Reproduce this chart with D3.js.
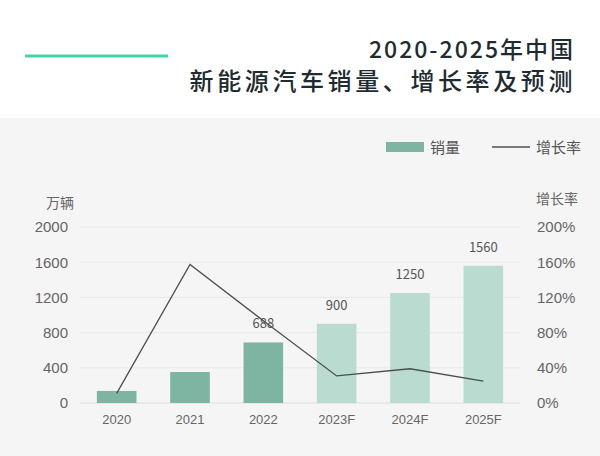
<!DOCTYPE html>
<html>
<head>
<meta charset="utf-8">
<script src="https://cdn.jsdelivr.net/npm/d3@7"></script>
<style>
  html, body { margin: 0; padding: 0; background: #fff; }
  svg { display: block; font-family: "Noto Sans CJK SC", "Noto Sans", sans-serif; }
</style>
</head>
<body>
<svg id="chart"></svg>
<script>
const width = 600;
const height = 456;

// данные
const years = ["2020", "2021", "2022", "2023F", "2024F", "2025F"];
const sales = [137, 352, 688, 900, 1250, 1560];
const growth = [0.109, 1.575, 0.934, 0.308, 0.389, 0.248];
const forecast = [false, false, false, true, true, true];
const leftTicks = [0, 400, 800, 1200, 1600, 2000];
const rightTicks = [0, 0.4, 0.8, 1.2, 1.6, 2.0];

const plotLeft = 80, plotRight = 520, plotTop = 227, plotBottom = 403;

let svg = d3.select("#chart")
    .attr("width", width)
    .attr("height", height);

// фон
svg.append("rect").attr("x", 0).attr("y", 118).attr("width", width).attr("height", height - 118)
    .attr("fill", "#f5f5f5");

// заголовок
svg.append("line").attr("x1", 25).attr("x2", 168).attr("y1", 56).attr("y2", 56)
    .attr("stroke", "#45d6a5").attr("stroke-width", 3);

svg.append("text").attr("x", 575).attr("y", 58).attr("text-anchor", "end")
    .attr("fill", "#1e2b31").attr("font-size", 23).attr("font-weight", 500)
    .attr("letter-spacing", 2)
    .text("2020-2025年中国");
svg.append("text").attr("x", 576).attr("y", 90).attr("text-anchor", "end")
    .attr("fill", "#1e2b31").attr("font-size", 24).attr("font-weight", 500)
    .attr("letter-spacing", 3.6)
    .text("新能源汽车销量、增长率及预测");

// шкалы
let scaleX = d3.scaleBand()
    .domain(years)
    .range([plotLeft, plotRight])
    .paddingInner(0.46)
    .paddingOuter(0.23);

let scaleY = d3.scaleLinear().domain([0, 2000]).range([plotBottom, plotTop]);
let scaleY2 = d3.scaleLinear().domain([0, 2]).range([plotBottom, plotTop]);

// сетка
svg.append("g")
    .selectAll("line")
    .data(leftTicks)
    .enter()
    .append("line")
    .attr("x1", plotLeft).attr("x2", plotRight)
    .attr("y1", d => scaleY(d)).attr("y2", d => scaleY(d))
    .attr("stroke", d => d === 0 ? "#dcdcdc" : "#e8e8e8")
    .attr("stroke-width", 1);

// оси
let axisL = svg.append("g")
    .attr("transform", `translate(${plotLeft}, 0)`)
    .call(d3.axisLeft(scaleY).tickValues(leftTicks).tickSize(0).tickPadding(12)
        .tickFormat(d3.format("d")));
let axisR = svg.append("g")
    .attr("transform", `translate(${plotRight}, 0)`)
    .call(d3.axisRight(scaleY2).tickValues(rightTicks).tickSize(0).tickPadding(17)
        .tickFormat(d => Math.round(d * 100) + "%"));
let axisB = svg.append("g")
    .attr("transform", `translate(0, ${plotBottom})`)
    .call(d3.axisBottom(scaleX).tickSize(0).tickPadding(12));

[axisL, axisR, axisB].forEach(a => {
    a.select(".domain").remove();
    a.selectAll("text").attr("fill", "#666").style("font-family", "inherit");
});
axisL.selectAll("text").attr("font-size", 15);
axisR.selectAll("text").attr("font-size", 15);
axisB.selectAll("text").attr("font-size", 13);

svg.append("text").attr("x", 74).attr("y", 208).attr("text-anchor", "end")
    .attr("fill", "#666").attr("font-size", 14).text("万辆");
svg.append("text").attr("x", 536).attr("y", 204)
    .attr("fill", "#666").attr("font-size", 14).text("增长率");

// столбцы
let data = years.map((y, i) => ({ year: y, sales: sales[i], growth: growth[i], forecast: forecast[i] }));

svg.append("g")
    .selectAll("rect")
    .data(data)
    .enter()
    .append("rect")
    .attr("x", d => scaleX(d.year))
    .attr("y", d => scaleY(d.sales))
    .attr("width", scaleX.bandwidth())
    .attr("height", d => plotBottom - scaleY(d.sales))
    .attr("fill", d => d.forecast ? "#b9dbd0" : "#7db4a2");

// подписи значений
svg.append("g")
    .selectAll("text")
    .data(data.filter(d => d.sales > 500))
    .enter()
    .append("text")
    .attr("x", d => scaleX(d.year) + scaleX.bandwidth() / 2)
    .attr("y", d => scaleY(d.sales) - 14)
    .attr("text-anchor", "middle")
    .attr("fill", "#555")
    .attr("font-size", 13)
    .text(d => d.sales);

// линия роста
let line = d3.line()
    .x(d => scaleX(d.year) + scaleX.bandwidth() / 2)
    .y(d => scaleY2(d.growth));

svg.append("path")
    .datum(data)
    .attr("d", line)
    .attr("fill", "none")
    .attr("stroke", "#4a4f4d")
    .attr("stroke-width", 1.3);

// легенда
svg.append("rect").attr("x", 386).attr("y", 142).attr("width", 38).attr("height", 10)
    .attr("fill", "#7db4a2");
svg.append("text").attr("x", 430).attr("y", 152.5).attr("fill", "#555").attr("font-size", 15).text("销量");
svg.append("line").attr("x1", 492).attr("x2", 530).attr("y1", 147).attr("y2", 147)
    .attr("stroke", "#4a4f4d").attr("stroke-width", 1.3);
svg.append("text").attr("x", 536).attr("y", 152.5).attr("fill", "#555").attr("font-size", 15).text("增长率");
</script>
</body>
</html>
